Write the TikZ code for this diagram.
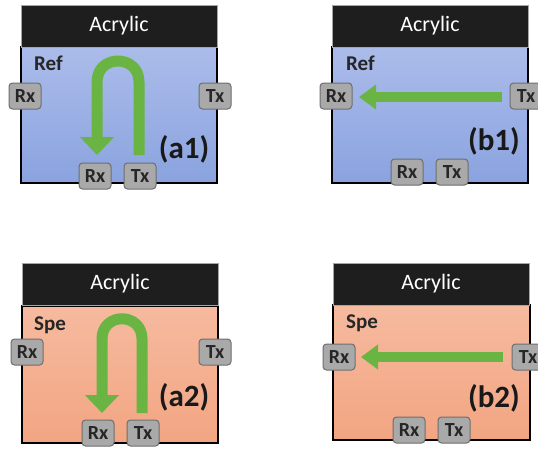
\documentclass[tikz,border=0pt]{standalone}
\usepackage{fontspec}
\setmainfont{Carlito}
\usetikzlibrary{arrows.meta}
\definecolor{barblack}{HTML}{1E1E1E}
\definecolor{bluetop}{HTML}{ABBCEA}
\definecolor{bluebot}{HTML}{8AA3DF}
\definecolor{orangetop}{HTML}{F6BA9F}
\definecolor{orangebot}{HTML}{F2A582}
\definecolor{arrowgreen}{HTML}{6AB444}
\definecolor{taggray}{HTML}{A9A9A9}
\definecolor{tagedge}{HTML}{6E6E6E}
\tikzset{
  bar/.style={fill=barblack, draw=gray!70, line width=0.6pt, anchor=north west,
    minimum width=196pt, minimum height=42pt, inner sep=0pt, outer sep=0pt,
    text=white, font=\fontsize{22}{22}\selectfont},
  bluebox/.style={top color=bluetop, bottom color=bluebot, draw=black, line width=1.6pt},
  orangebox/.style={top color=orangetop, bottom color=orangebot, draw=black, line width=1.6pt},
  tag/.style={rounded corners=3.5pt, fill=taggray, draw=tagedge, line width=1pt,
    minimum width=32pt, minimum height=26pt, inner sep=0pt,
    font=\fontsize{20}{20}\selectfont\bfseries, text=black!85},
  medium/.style={anchor=west, inner sep=0pt, font=\fontsize{21}{21}\selectfont\bfseries, text=black!85},
  caselabel/.style={inner sep=0pt, font=\fontsize{31}{31}\selectfont\bfseries, text=black!90},
  ubeam/.style={draw=arrowgreen, line width=11pt, -{Triangle[length=18pt,width=33pt]}},
  sbeam/.style={draw=arrowgreen, line width=10pt, -{Triangle[length=17pt,width=24pt]}},
}
\begin{document}
\begin{tikzpicture}[x=1pt,y=-1pt]
\useasboundingbox (0,0) rectangle (538,448);
\fill[white] (0,0) rectangle (538,448);

% ---------- panel a1 ----------
\draw[bluebox] (21,47) rectangle (217,183);
\node[bar] (a1bar) at (21,5) {Acrylic};
\node[medium] (a1med) at (34,63) {Ref};
\node[caselabel] (a1lab) at (184,149) {(a1)};
\coordinate (a1from) at (139,155);
\coordinate (a1to) at (97,155);
\draw[ubeam] (a1from) -- (139,82) .. controls (139,54) and (97,54) .. (97,82) -- (a1to);
\node[tag] (a1rxl) at (25,96) {Rx};
\node[tag] (a1txr) at (215,96) {Tx};
\node[tag] (a1rxb) at (95,176) {Rx};
\node[tag] (a1txb) at (140,176) {Tx};

% ---------- panel b1 ----------
\draw[bluebox] (332,47) rectangle (528,183);
\node[bar] (b1bar) at (332,5) {Acrylic};
\node[medium] (b1med) at (346,63) {Ref};
\node[caselabel] (b1lab) at (494,141) {(b1)};
\node[tag] (b1rxl) at (336,96) {Rx};
\node[tag] (b1txr) at (526,96) {Tx};
\node[tag] (b1rxb) at (407,172) {Rx};
\node[tag] (b1txb) at (452,172) {Tx};
\coordinate (b1from) at (502,97);
\coordinate (b1to) at (359,97);
\draw[sbeam] (b1from) -- (b1to);

% ---------- panel a2 ----------
\draw[orangebox] (22,306) rectangle (218,443);
\node[bar] (a2bar) at (22,263) {Acrylic};
\node[medium] (a2med) at (34,325) {Spe};
\node[caselabel] (a2lab) at (184,397) {(a2)};
\coordinate (a2from) at (142,413);
\coordinate (a2to) at (102,413);
\draw[ubeam] (a2from) -- (142,339) .. controls (142,312) and (102,312) .. (102,339) -- (a2to);
\node[tag] (a2rxl) at (27,352) {Rx};
\node[tag] (a2txr) at (215,352) {Tx};
\node[tag] (a2rxb) at (98,433) {Rx};
\node[tag] (a2txb) at (143,433) {Tx};

% ---------- panel b2 ----------
\draw[orangebox] (333,305) rectangle (530,440);
\node[bar] (b2bar) at (333,263) {Acrylic};
\node[medium] (b2med) at (346,323) {Spe};
\node[caselabel] (b2lab) at (494,398) {(b2)};
\node[tag] (b2rxl) at (339,357) {Rx};
\node[tag] (b2txr) at (528,357) {Tx};
\node[tag] (b2rxb) at (409,430) {Rx};
\node[tag] (b2txb) at (454,430) {Tx};
\coordinate (b2from) at (503,357);
\coordinate (b2to) at (361,357);
\draw[sbeam] (b2from) -- (b2to);
\end{tikzpicture}
\end{document}
